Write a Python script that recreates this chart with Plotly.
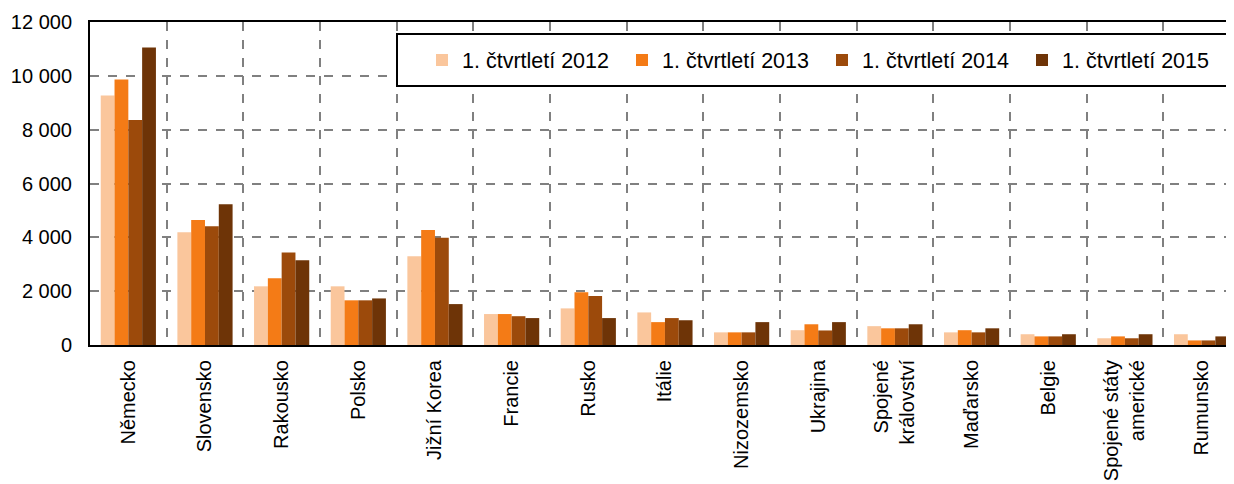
import plotly.graph_objects as go

categories = ["Německo", "Slovensko", "Rakousko", "Polsko", "Jižní Korea", "Francie",
              "Rusko", "Itálie", "Nizozemsko", "Ukrajina", "Spojené<br>království",
              "Maďarsko", "Belgie", "Spojené státy<br>americké", "Rumunsko"]

series_names = ["1. čtvrtletí 2012", "1. čtvrtletí 2013", "1. čtvrtletí 2014", "1. čtvrtletí 2015"]

q1_2012 = [9270, 4190, 2180, 2180, 3300, 1150, 1360, 1210, 470, 550, 700, 470, 400, 250, 400]
q1_2013 = [9860, 4640, 2480, 1660, 4270, 1150, 1960, 850, 470, 770, 620, 550, 320, 320, 170]
q1_2014 = [8360, 4410, 3440, 1660, 3980, 1070, 1820, 1000, 470, 540, 620, 470, 320, 250, 170]
q1_2015 = [11050, 5230, 3150, 1730, 1520, 1000, 1000, 920, 850, 850, 770, 620, 400, 400, 320]

colors = ["#FAC69C", "#F47B16", "#9C4A0B", "#6E3407"]

fig = go.Figure()
for name, vals, col in zip(series_names, [q1_2012, q1_2013, q1_2014, q1_2015], colors):
    fig.add_trace(go.Bar(x=categories, y=vals, name=name, marker_color=col,
                         marker_line_width=0))

font_family = "Liberation Sans, Arial, sans-serif"

# page body has an 8px margin; figure is sized/positioned to compensate
OFF = 8
W, H = 1234 - OFF, 484 - OFF
ML, MR, MT, MB = 90 - OFF, 1, 22 - OFF, H - (345 - OFF)
pw, ph = W - ML - MR, H - MT - MB

def px_x(x):
    return (x - OFF - ML) / pw

def px_y(y):
    return (H - MB - (y - OFF)) / ph

fig.update_layout(
    width=W, height=H,
    margin=dict(l=ML, r=MR, t=MT, b=MB, autoexpand=False),
    paper_bgcolor="white", plot_bgcolor="white",
    barmode="group", bargap=0.28, bargroupgap=0,
    separators=", ",
    font=dict(family=font_family, size=20, color="black"),
    legend=dict(
        orientation="h", x=px_x(422), y=px_y(60), xanchor="left", yanchor="middle",
        borderwidth=0, bgcolor="rgba(0,0,0,0)",
        font=dict(size=21.5, color="black"),
        entrywidth=155, itemwidth=30,
    ),
    showlegend=True,
    shapes=[dict(type="rect", xref="paper", yref="paper",
                 x0=px_x(397), x1=px_x(1229), y0=px_y(86), y1=px_y(34),
                 line=dict(color="black", width=2), fillcolor="white", layer="above")],
)

fig.update_xaxes(
    type="category", range=[-0.5, 14.41], automargin=False,
    tickangle=-90, tickson="boundaries",
    showgrid=True, gridcolor="#808080", griddash="dash", gridwidth=1.5,
    showline=True, linecolor="black", linewidth=2, mirror=True,
    ticks="", tickfont=dict(size=20, color="black"),
    ticklabelstandoff=5,
)
fig.update_yaxes(
    range=[0, 12000], dtick=2000, tickformat=",d", automargin=False,
    showgrid=True, gridcolor="#808080", griddash="dash", gridwidth=1.5,
    showline=True, linecolor="black", linewidth=2, mirror=True,
    ticks="", tickfont=dict(size=20, color="black"),
    ticklabelstandoff=12, zeroline=False,
)

fig.write_html("out.html")
